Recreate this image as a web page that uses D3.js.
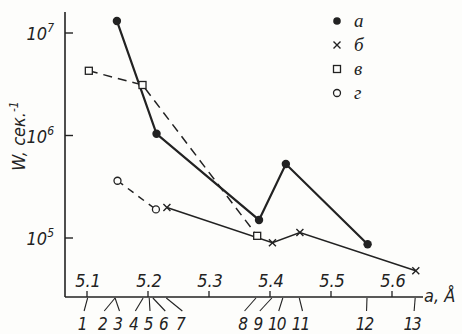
<!DOCTYPE html>
<html>
<head>
<meta charset="utf-8">
<script src="https://cdn.jsdelivr.net/npm/d3@7"></script>
<style>
  body { margin: 0; background: #fdfdfb; }
  svg text { font-family: "DejaVu Sans", sans-serif; font-stretch: condensed; font-style: italic; fill: #222; }
  .leg text { font-family: "Liberation Serif", serif; font-stretch: normal; }
</style>
</head>
<body>
<div id="chart"></div>
<script>
// series values: lattice constant a (Å) and W (1/s)
var seriesA = { x: [5.149, 5.214, 5.382, 5.426, 5.560], w: [1.31e7, 1.04e6, 1.50e5, 5.27e5, 8.7e4] };
var seriesB = { x: [5.231, 5.404, 5.449, 5.639], w: [1.98e5, 9.0e4, 1.13e5, 4.8e4] };
var seriesV = { x: [5.103, 5.191, 5.379], w: [4.28e6, 3.11e6, 1.05e5] };
var seriesG = { x: [5.150, 5.213], w: [3.62e5, 1.90e5] };

var xTicks = [5.1, 5.2, 5.3, 5.4, 5.5, 5.6];
var yTicks = [1e5, 1e6, 1e7];
var yTickExp = ["5", "6", "7"];

// numbered compounds: position on axis, position of the label
var compNames = ["1","2","3","4","5","6","7","8","9","10","11","12","13"];
var compA =     [5.101, 5.146, 5.146, 5.192, 5.202, 5.208, 5.230, 5.377, 5.403, 5.421, 5.448, 5.559, 5.638];
var compLabelA = [5.092, 5.125, 5.150, 5.176, 5.200, 5.225, 5.253, 5.355, 5.380, 5.411, 5.450, 5.555, 5.633];

var legendNames = ["а", "б", "в", "г"];

var width = 462, height = 334;
var x = d3.scaleLinear().domain([5.1, 5.6]).range([87, 392]);
var y = d3.scaleLog().domain([1e5, 1e7]).range([238, 33]);
var axisX = 65, axisY = 297;

var svg = d3.select("#chart").append("svg")
  .attr("width", width).attr("height", height)
  .style("background", "#fdfdfb");

var ink = "#222";

// axes
svg.append("line").attr("x1", axisX).attr("x2", axisX).attr("y1", 12).attr("y2", axisY)
  .attr("stroke", ink).attr("stroke-width", 1.6);
svg.append("line").attr("x1", axisX).attr("x2", 423).attr("y1", axisY).attr("y2", axisY)
  .attr("stroke", ink).attr("stroke-width", 1.6);

svg.selectAll(".yt").data(yTicks).enter().append("line")
  .attr("x1", axisX).attr("x2", axisX + 8)
  .attr("y1", function(d) { return y(d); }).attr("y2", function(d) { return y(d); })
  .attr("stroke", ink).attr("stroke-width", 1.4);

var yl = svg.selectAll(".ylab").data(yTicks).enter().append("text")
  .attr("x", 54).attr("y", function(d) { return y(d) + 7; })
  .attr("text-anchor", "end").style("font-size", "18px").text("10");
yl.append("tspan").attr("dy", -8).style("font-size", "12px")
  .text(function(d, i) { return yTickExp[i]; });

svg.selectAll(".xt").data(xTicks).enter().append("line")
  .attr("x1", function(d) { return x(d); }).attr("x2", function(d) { return x(d); })
  .attr("y1", axisY).attr("y2", axisY - 6)
  .attr("stroke", ink).attr("stroke-width", 1.3);

svg.selectAll(".xlab").data(xTicks).enter().append("text")
  .attr("x", function(d) { return x(d) + 1; }).attr("y", 287)
  .attr("text-anchor", "middle").style("font-size", "18px")
  .text(function(d) { return d.toFixed(1); });

// compound ticks below the axis
svg.selectAll(".ct").data(compA).enter().append("line")
  .attr("x1", function(d) { return x(d); })
  .attr("x2", function(d, i) { return x(compLabelA[i]) + 2; })
  .attr("y1", axisY + 1).attr("y2", axisY + 14)
  .attr("stroke", ink).attr("stroke-width", 1.1);

svg.selectAll(".cl").data(compNames).enter().append("text")
  .attr("x", function(d, i) { return x(compLabelA[i]); }).attr("y", 330)
  .attr("text-anchor", "middle").style("font-size", "17px").style("letter-spacing", "-1px")
  .text(function(d) { return d; });

// axis titles
svg.append("text").attr("x", 424).attr("y", 302).style("font-size", "18px").text("a, Å");
var yt = svg.append("text").attr("transform", "translate(25,136) rotate(-90)")
  .attr("text-anchor", "middle").style("font-size", "18px").text("W, сек.");
yt.append("tspan").attr("dy", -7).style("font-size", "12px").text("-1");

// lines
function pts(s) { return s.x.map(function(v, i) { return [x(v), y(s.w[i])]; }); }
var line = d3.line();

svg.append("path").attr("d", line(pts(seriesV))).attr("fill", "none")
  .attr("stroke", ink).attr("stroke-width", 1.5).attr("stroke-dasharray", "9,6");
svg.append("path").attr("d", line(pts(seriesG))).attr("fill", "none")
  .attr("stroke", ink).attr("stroke-width", 1.5).attr("stroke-dasharray", "7,6");
svg.append("path").attr("d", line(pts(seriesA))).attr("fill", "none")
  .attr("stroke", ink).attr("stroke-width", 2.2);
svg.append("path").attr("d", line(pts(seriesB))).attr("fill", "none")
  .attr("stroke", ink).attr("stroke-width", 1.6);

// markers
function dots(g, p) {
  g.selectAll("circle.f").data(p).enter().append("circle").attr("class", "f")
    .attr("cx", function(d) { return d[0]; }).attr("cy", function(d) { return d[1]; })
    .attr("r", 4.2).attr("fill", ink);
}
function crosses(g, p) {
  g.selectAll("path.x").data(p).enter().append("path").attr("class", "x")
    .attr("d", function(d) { var s = 3.5; return "M" + (d[0]-s) + "," + (d[1]-s) + "L" + (d[0]+s) + "," + (d[1]+s) +
      "M" + (d[0]-s) + "," + (d[1]+s) + "L" + (d[0]+s) + "," + (d[1]-s); })
    .attr("stroke", ink).attr("stroke-width", 1.4);
}
function squares(g, p) {
  g.selectAll("rect.s").data(p).enter().append("rect").attr("class", "s")
    .attr("x", function(d) { return d[0] - 3.5; }).attr("y", function(d) { return d[1] - 3.5; })
    .attr("width", 7).attr("height", 7).attr("fill", "#fdfdfb").attr("stroke", ink).attr("stroke-width", 1.3);
}
function rings(g, p) {
  g.selectAll("circle.o").data(p).enter().append("circle").attr("class", "o")
    .attr("cx", function(d) { return d[0]; }).attr("cy", function(d) { return d[1]; })
    .attr("r", 3.5).attr("fill", "#fdfdfb").attr("stroke", ink).attr("stroke-width", 1.3);
}
var marks = svg.append("g");
squares(marks, pts(seriesV));
rings(marks, pts(seriesG));
dots(marks, pts(seriesA));
crosses(marks, pts(seriesB));

// legend
var leg = svg.append("g").attr("class", "leg");
var legY = [21, 45, 69, 93];
var legFns = [dots, crosses, squares, rings];
legendNames.forEach(function(n, i) {
  var g = leg.append("g");
  if (i === 0) {
    g.append("circle").attr("cx", 337).attr("cy", legY[i]).attr("r", 3.8).attr("fill", ink);
  } else {
    legFns[i](g, [[337, legY[i]]]);
  }
  g.append("text").attr("x", 354).attr("y", legY[i] + 6).style("font-size", "19px").text(n);
});
</script>
</body>
</html>
